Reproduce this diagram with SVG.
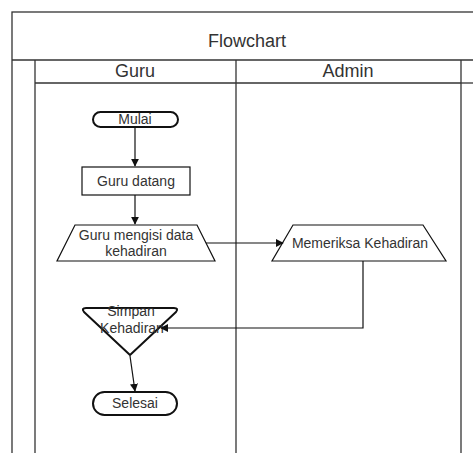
<svg xmlns="http://www.w3.org/2000/svg" width="473" height="453" viewBox="0 0 473 453">
<style>
.lane{fill:none;stroke:#333;stroke-width:1.3}
.node{fill:#fff;stroke:#111;stroke-width:1.2}
.term{fill:#fff;stroke:#111;stroke-width:2}
.t{font-family:"Liberation Sans",Arial,sans-serif;fill:#333;text-anchor:middle}
.big{font-size:18px}
.s{font-size:14px}
.edge{fill:none;stroke:#111;stroke-width:1.2}
</style>
<defs>
<marker id="arr" viewBox="0 0 10 10" refX="9" refY="5" markerWidth="8" markerHeight="8" orient="auto" markerUnits="userSpaceOnUse">
<path d="M0,0 L10,5 L0,10 z" fill="#111"/>
</marker>
</defs>
<rect width="473" height="453" fill="#fff"/>
<g id="pool">
<rect class="lane" x="12" y="12" width="475" height="460"/>
<line class="lane" x1="12" y1="60" x2="473" y2="60"/>
<text class="t big" x="247" y="47">Flowchart</text>
<line class="lane" x1="35" y1="60" x2="35" y2="453"/>
</g>
<g id="lane-guru">
<line class="lane" x1="35" y1="83" x2="236" y2="83"/>
<text class="t big" x="135" y="77">Guru</text>
</g>
<g id="lane-admin">
<line class="lane" x1="236" y1="60" x2="236" y2="453"/>
<line class="lane" x1="236" y1="83" x2="461" y2="83"/>
<line class="lane" x1="461" y1="60" x2="461" y2="453"/>
<line class="lane" x1="461" y1="83" x2="473" y2="83"/>
<text class="t big" x="348" y="77">Admin</text>
</g>
<g id="mulai">
<rect class="term" x="93" y="112" width="85" height="15" rx="7.5"/>
<text class="t s" x="135" y="123.5">Mulai</text>
</g>
<g id="guru-datang">
<rect class="node" x="82" y="167" width="108" height="28"/>
<text class="t s" x="136" y="186">Guru datang</text>
</g>
<g id="guru-mengisi">
<polygon class="node" points="75,225 197,225 215,261 57,261"/>
<text class="t s" x="136" y="240">Guru mengisi data</text>
<text class="t s" x="136" y="256">kehadiran</text>
</g>
<g id="memeriksa">
<polygon class="node" points="293,225 423,225 446,261 272,261"/>
<text class="t s" x="360" y="248">Memeriksa Kehadiran</text>
</g>
<g id="simpan">
<path class="term" d="M86,308 L174,308 Q179,308 176,312 L130,355 L84,312 Q81,308 86,308 z" stroke-width="2.4" stroke-linejoin="round"/>
<text class="t s" x="131" y="316">Simpan</text>
<text class="t s" x="132" y="333">Kehadiran</text>
</g>
<g id="selesai">
<rect class="term" x="93" y="392" width="84" height="23" rx="11.5"/>
<text class="t s" x="135" y="408">Selesai</text>
</g>
<g id="connectors">
<line class="edge" x1="135" y1="127" x2="135" y2="166" marker-end="url(#arr)"/>
<line class="edge" x1="135" y1="195" x2="135" y2="224" marker-end="url(#arr)"/>
<line class="edge" x1="206" y1="243" x2="283" y2="243" marker-end="url(#arr)"/>
<polyline class="edge" points="363,261 363,328 161,328" marker-end="url(#arr)"/>
<line class="edge" x1="130" y1="356" x2="135" y2="391" marker-end="url(#arr)"/>
</g>
</svg>
